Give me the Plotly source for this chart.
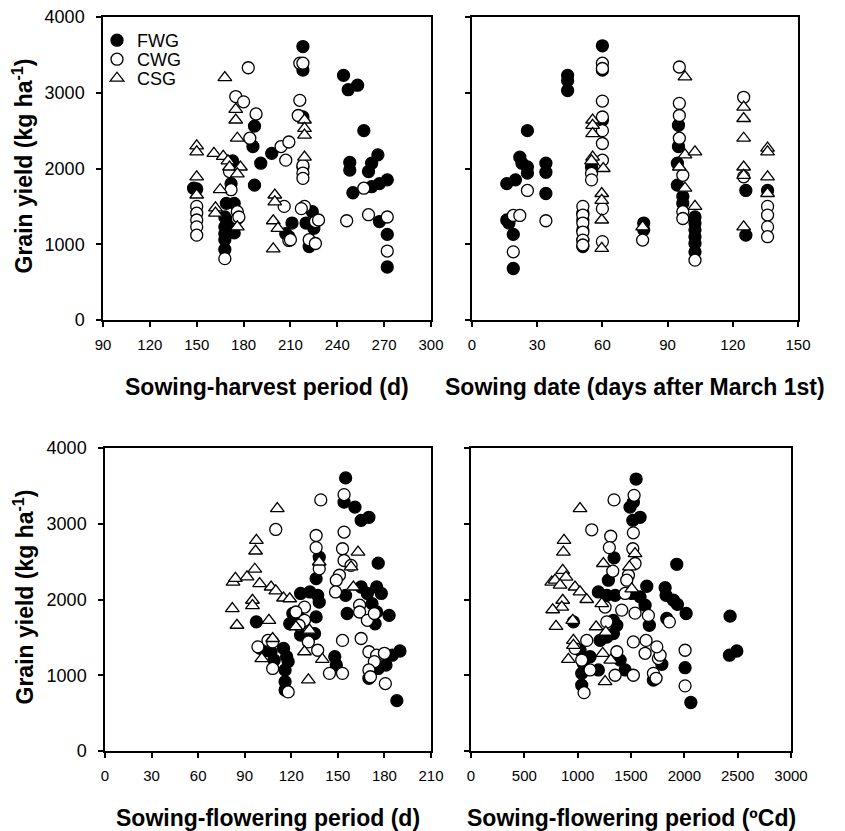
import plotly.graph_objects as go

# ---------------- Data ----------------
# Panel A: Sowing-harvest period (d)
sh_fwg_x = [148,150,169,168,168,168,168,168,173,172,174,174,174,187,186,198,191,187,211,209,218,218,218,218,222,224,225,244,247,253,257,248,248,250,260,262,266,262,267,272,267,272,272,220,207]
sh_fwg_y = [1740,1730,1540,1360,1230,1140,1060,930,2100,1800,1540,1280,1150,2560,2290,2200,2070,1780,1280,1100,3610,3300,2680,2020,970,1430,1210,3230,3040,3100,2500,2080,1980,1680,1960,2070,2180,1760,1800,1850,1300,1130,700,1280,1140]
sh_cwg_x = [150,150,150,150,150,172,176,176,177,168,175,180,183,188,184,204,209,207,206,209,210,216,218,216,215,218,218,218,219,217,226,228,222,226,246,260,257,272,272,171]
sh_cwg_y = [1500,1410,1320,1230,1120,1720,1430,1340,1360,810,2950,2880,3330,2720,2400,2290,2350,2110,1500,1050,1060,3390,3390,2900,2700,2040,1940,1870,1500,1470,1300,1320,1060,1010,1310,1390,1740,1360,910,1960]
sh_csg_x = [150,150,150,150,161,162,162,167,170,171,178,176,165,176,168,175,175,176,200,200,199,202,199,219,219,219,219]
sh_csg_y = [2300,2220,1890,1650,2200,1480,1410,2160,2100,2020,2020,1930,1720,1230,3200,2780,2640,2400,1650,1560,1310,1210,940,2640,2530,2440,2150]

# Panel B: Sowing date (days after March 1st)
sd_fwg_x = [16,20,22,23,25.5,25.5,25.5,16,17,19,19,34,34,34,44,44,44,60,60,60,51,51,51,51,51,55,79,79,95,95,94.5,94.5,97,97,102.6,102.6,102.6,102.6,102.6,102.6,126,126,136]
sd_fwg_y = [1800,1850,2150,2070,2020,1940,2500,1320,1280,1130,680,2070,1950,1670,3230,3160,3030,3620,3300,2640,1410,1320,1190,1055,970,2020,1280,1190,2570,2290,2070,1780,1630,1540,1360,1280,1190,1100,1010,900,1710,1120,1710]
sd_cwg_x = [25.5,19,22,19,34,51,51,51,51,51,51,55,55,60,60,60,60,60,60,60,60,60,78.5,95.4,95.4,95.4,95.4,97,97,97,102.6,125,125,136,136,136,136]
sd_cwg_y = [1710,1380,1380,900,1310,1500,1385,1280,1160,1055,990,1935,1850,3390,3320,2890,2680,2500,2330,2110,1470,1035,1055,3340,2860,2700,2400,1910,1430,1340,790,2940,1890,1500,1385,1230,1100]
sd_csg_x = [55.5,55.5,55.5,55.5,55,60.4,59.7,59.7,59.7,59.7,78.5,98,98,95.4,102.6,98,102.6,125,125,125,125,125,125,136,136,136,136]
sd_csg_y = [2640,2570,2460,2150,2100,2000,1670,1580,1320,945,1230,3210,2180,2020,2220,1740,1500,2810,2660,2400,2020,1910,1230,2270,2220,1890,1670]

# Panel C: Sowing-flowering period (d)
sf_fwg_x = [155,154,161,165,170,176,138,136,155,126,132,137,138,121,119,125,136,126,131,135,156,165,169,175,178,172,175,174,183,190,185,181,176,170,188,148,149,97.5,115,117,118,116,116,116,107,109,104,100]
sf_fwg_y = [3605,3285,3220,3045,3085,2480,2560,2275,2055,2080,2100,2055,1965,1815,1680,1770,1770,1530,1460,1550,1815,2165,2080,2165,2080,1945,1835,1680,1790,1320,1265,1135,1090,960,665,1245,1135,1705,1355,1245,1180,1070,915,805,1310,1200,1330,1355]
sf_cwg_x = [110,139,154,136,136,154,153,154,138,151,149,158.5,148.5,128.5,123,126,128.5,125,131,164,164,169,173.5,153,165,170,175,180,173.5,170,171,180.6,144.6,153,137,98.5,105,108,108,118]
sf_cwg_y = [2925,3315,3385,2845,2685,2890,2670,2515,2405,2320,2255,2450,2100,1900,1835,1680,1725,1660,1440,1925,1835,1725,1815,1460,1485,1310,1265,1290,1180,1070,980,890,1025,1025,1330,1375,1460,1440,1090,780]
sf_csg_x = [111,97.5,97,96.5,82.5,84,91.5,99.6,107,110,115,119,95,95,82,85,105.6,108,101,131,128.5,140,131.7,123,160,158.5,163,138]
sf_csg_y = [3200,2780,2640,2400,2230,2280,2300,2210,2165,2115,2020,2010,1990,1920,1880,1660,1725,1485,1220,940,1310,1210,1595,1640,2165,2430,2625,2495]

# Panel D: Sowing-flowering period (ºCd)
tt_fwg_x = [1548,1491,1522,1517,1585,1929,1341,1288,1648,1820,1829,1898,1935,2017,2429,2423,2492,2007,2061,1672,1835,1789,1710,1194,1273,1351,1507,1585,1632,1335,1367,1273,1210,1335,1398,1445,960,1022,1053,1038,1038,1116,1194]
tt_fwg_y = [3590,3220,3285,3045,3085,2465,2550,2255,2175,2155,2055,1990,1935,1815,1780,1265,1320,1100,640,1660,1750,1145,935,2100,2055,2055,2080,2035,1925,1725,1660,1505,1460,1550,1200,1070,1705,1330,1155,1025,870,1245,1070]
tt_cwg_x = [1341,1529,1132,1310,1297,1522,1517,1538,1329,1476,1460,1445,1257,1413,1538,1663,1860,1273,1522,1641,1632,1757,1773,1742,2007,2007,1710,1735,1522,1351,1367,1085,975,1038,1116,1060]
tt_cwg_y = [3315,3375,2920,2835,2685,2880,2670,2475,2375,2320,2255,2080,1900,1860,1820,1790,1705,1705,1440,1460,1290,1220,1265,1375,1330,860,1025,960,1000,1000,1310,1460,1355,1200,1070,770]
tt_csg_x = [1022,872,866,860,891,757,788,835,975,1022,1085,860,851,766,797,954,960,960,913,1241,1485,1538,1507,1226,1173,1264,1235,1310,1257]
tt_csg_y = [3200,2780,2625,2385,2295,2230,2255,2190,2165,2100,2000,1990,1900,1865,1645,1725,1460,1395,1210,2475,2430,2605,2140,1945,1640,1570,1290,1200,915]

group_names = ["FWG", "CWG", "CSG"]
y_ticks = [0, 1000, 2000, 3000, 4000]

panels = [
    dict(data=[(sh_fwg_x, sh_fwg_y), (sh_cwg_x, sh_cwg_y), (sh_csg_x, sh_csg_y)],
         xrange=[90, 300], dtick=30, title="Sowing-harvest period (d)"),
    dict(data=[(sd_fwg_x, sd_fwg_y), (sd_cwg_x, sd_cwg_y), (sd_csg_x, sd_csg_y)],
         xrange=[0, 150], dtick=30, title="Sowing date (days after March 1st)"),
    dict(data=[(sf_fwg_x, sf_fwg_y), (sf_cwg_x, sf_cwg_y), (sf_csg_x, sf_csg_y)],
         xrange=[0, 210], dtick=30, title="Sowing-flowering period (d)"),
    dict(data=[(tt_fwg_x, tt_fwg_y), (tt_cwg_x, tt_cwg_y), (tt_csg_x, tt_csg_y)],
         xrange=[0, 3000], dtick=500, title="Sowing-flowering period (ºCd)"),
]

# ---------------- Layout geometry (pixels) ----------------
W, H = 845, 831
boxes = [  # (left, right, top, bottom) in px
    (103, 431, 17, 320),
    (472, 798, 17, 320),
    (105, 431, 448, 751),
    (471, 791, 448, 751),
]

FONT = "Liberation Sans, Arial, sans-serif"
styles = [
    dict(symbol="circle", size=12, color="black", line=dict(color="black", width=1.3)),
    dict(symbol="circle", size=12, color="white", line=dict(color="black", width=1.3)),
    dict(symbol="triangle-up", size=12, color="white", line=dict(color="black", width=1.3)),
]
legend_ids = ["legend", "legend2", "legend3"]
legend_tops = [22, 41, 60]  # px, one legend box per group

fig = go.Figure()
layout = dict(template="none", width=W, height=H, margin=dict(l=0, r=0, t=0, b=0, pad=0),
              paper_bgcolor="white", plot_bgcolor="white",
              font=dict(family=FONT, size=16, color="black"))
annotations = []

for i, (p, (l, r, t, b)) in enumerate(zip(panels, boxes)):
    n = i + 1
    xa = "x" if n == 1 else f"x{n}"
    ya = "y" if n == 1 else f"y{n}"
    for g, ((xs, ys), st) in enumerate(zip(p["data"], styles)):
        fig.add_trace(go.Scatter(x=xs, y=ys, mode="markers", name=group_names[g],
                                 marker=st, xaxis=xa, yaxis=ya, legend=legend_ids[g],
                                 showlegend=(n == 1), cliponaxis=False))
    ax_common = dict(showgrid=False, zeroline=False, showline=True, linecolor="black",
                     linewidth=1.5, mirror=True, ticks="outside", ticklen=5,
                     tickwidth=1.5, tickcolor="black", automargin=False)
    layout[f"xaxis{'' if n == 1 else n}"] = dict(
        ax_common, domain=[l / W, r / W], range=p["xrange"], dtick=p["dtick"],
        tick0=p["xrange"][0], anchor=ya, ticklabelstandoff=5,
        tickfont=dict(size=15))
    layout[f"yaxis{'' if n == 1 else n}"] = dict(
        ax_common, domain=[1 - b / H, 1 - t / H], range=[0, 4000], tickvals=y_ticks,
        anchor=xa, showticklabels=(n in (1, 3)), ticklabelstandoff=8,
        tickfont=dict(size=18))
    title_y = b + 67
    annotations.append(dict(text=p["title"], xref="paper", yref="paper",
                            x=(l + r) / 2 / W, y=1 - title_y / H, showarrow=False,
                            font=dict(size=23, weight="bold"),
                            xanchor="center", yanchor="middle"))
    if n in (1, 3):
        annotations.append(dict(text="Grain yield (kg ha<sup>-1</sup>)", xref="paper", yref="paper",
                                x=23 / W, y=1 - ((t + b) / 2 - 2) / H, showarrow=False,
                                textangle=-90, font=dict(size=23, weight="bold"),
                                xanchor="center", yanchor="middle"))

layout["annotations"] = annotations
for lid, top in zip(legend_ids, legend_tops):
    layout[lid] = dict(x=97 / W, y=1 - top / H, xanchor="left", yanchor="top",
                       bgcolor="rgba(0,0,0,0)", borderwidth=0,
                       font=dict(size=18), itemwidth=30)
fig.update_layout(**layout)
fig.write_html("out.html", config={"displayModeBar": False},
               post_script="document.body.style.margin='0px';")
